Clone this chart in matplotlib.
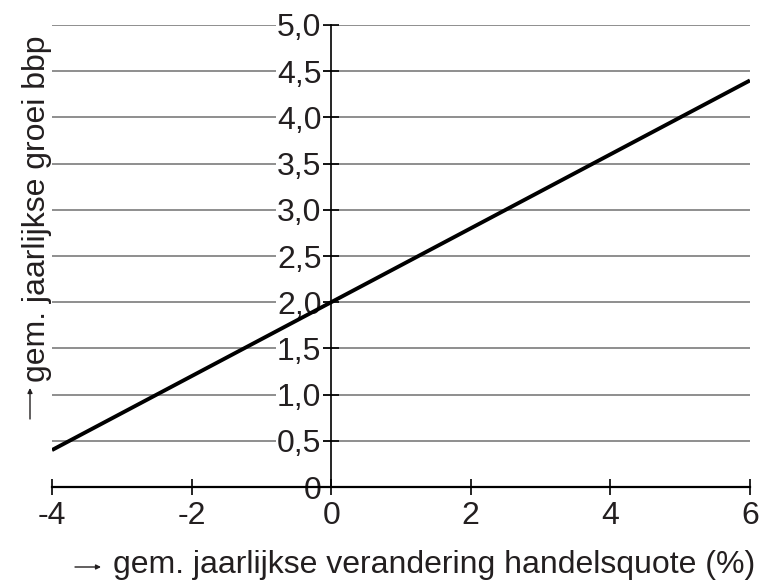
import matplotlib
matplotlib.use("Agg")
import matplotlib.pyplot as plt
import numpy as np

plt.rcParams['font.family'] = ['Liberation Sans', 'DejaVu Sans']

# lijn: groei bbp tegen verandering handelsquote
x_lijn = [-4, 6]
y_lijn = [0.4, 4.4]

x_ticks = [-4, -2, 0, 2, 4, 6]
x_labels = ['-4', '-2', '0', '2', '4', '6']
y_ticks = [0, 0.5, 1.0, 1.5, 2.0, 2.5, 3.0, 3.5, 4.0, 4.5, 5.0]
y_labels = ['0', '0,5', '1,0', '1,5', '2,0', '2,5', '3,0', '3,5', '4,0', '4,5', '5,0']

fig = plt.figure(figsize=(7.6, 5.8), dpi=100)
ax = fig.add_axes([0.0684, 0.1603, 0.9184, 0.7966])

# horizontale rasterlijnen
for yv in y_ticks[1:]:
    ax.plot([-4, 6], [yv, yv], color='#707070', lw=1.1, zorder=1)

ax.plot(x_lijn, y_lijn, color='black', lw=2.8, zorder=4, solid_capstyle='butt')

ax.set_xlim(-4, 6)
ax.set_ylim(0, 5)
ax.spines['top'].set_visible(False)
ax.spines['right'].set_visible(False)
ax.spines['left'].set_position(('data', 0))
ax.spines['left'].set_linewidth(1.2)
ax.spines['bottom'].set_linewidth(1.6)
ax.spines['left'].set_zorder(3)

ax.set_xticks(x_ticks)
ax.set_xticklabels(x_labels, fontsize=23)
ax.set_yticks(y_ticks)
ax.set_yticklabels(y_labels, fontsize=23)
ax.tick_params(axis='x', direction='inout', length=12, width=1.2, pad=4)
ax.tick_params(axis='y', direction='inout', length=12, width=1.2, pad=1)
for lbl in ax.get_yticklabels():
    lbl.set_bbox(dict(facecolor='white', edgecolor='none', pad=1))
    lbl.set_color('#231f20')
for lbl in ax.get_xticklabels():
    lbl.set_color('#231f20')

# aslabels met pijltjes
fig.text(0.149, 0.012, 'gem. jaarlijkse verandering handelsquote (%)',
         fontsize=23, color='#231f20', ha='left', va='baseline')
fig.text(0.049, 0.64, 'gem. jaarlijkse groei bbp', rotation=90,
         fontsize=23, color='#231f20', ha='center', va='center')
pijl = dict(arrowstyle='-|>', lw=1.0, color='#231f20', mutation_scale=7,
            shrinkA=0, shrinkB=0)
ax.annotate('', xy=(101, 13), xytext=(75, 13), xycoords='figure pixels',
            textcoords='figure pixels', arrowprops=pijl, annotation_clip=False)
ax.annotate('', xy=(30, 192), xytext=(30, 161), xycoords='figure pixels',
            textcoords='figure pixels', arrowprops=pijl, annotation_clip=False)

fig.savefig('out.png', dpi=100)
